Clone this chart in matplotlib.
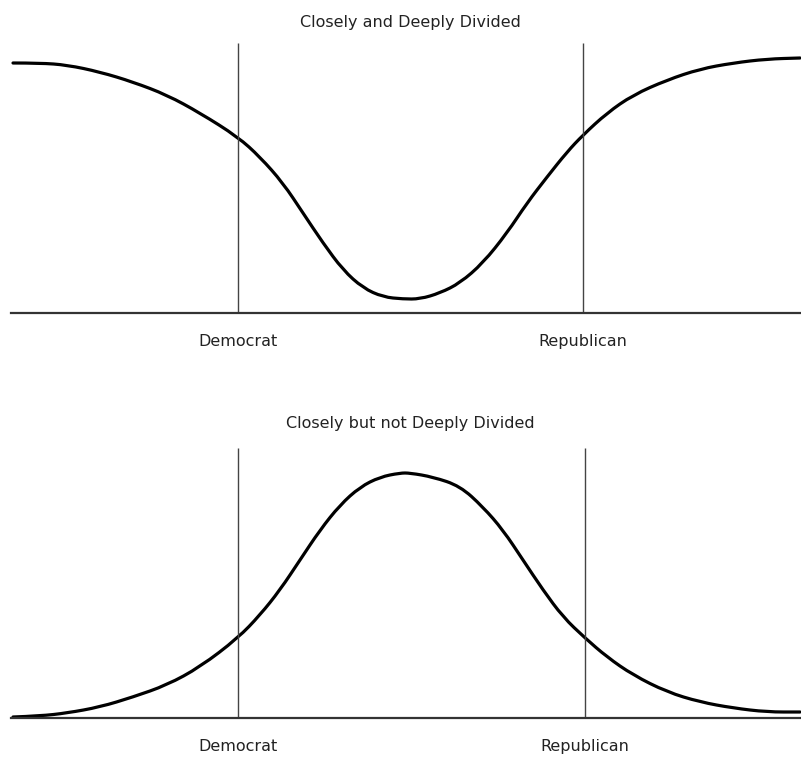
"""
    Two sketches of how opinion can be spread between the parties:
    closely and deeply divided vs closely but not deeply divided.
"""

import matplotlib
matplotlib.use("Agg")
import matplotlib.pyplot as plt
import numpy as np
from matplotlib.path import Path
from matplotlib.patches import PathPatch

# positions along the left-right scale (arbitrary units) and curve heights
deep_x = [2, 29, 56, 89, 122, 156, 189, 227, 249, 272, 292, 312, 332, 352, 372, 392,
          409, 429, 449, 472, 496, 516, 536, 556, 572, 596, 622, 656, 689, 722, 756, 789]
deep_y = [250, 250, 248, 241, 231, 218, 200, 176, 156, 130, 100, 70, 43, 25, 16, 14,
          14, 20, 30, 50, 80, 110, 136, 161, 178, 200, 218, 233, 244, 250, 254, 255]

close_x = [2, 29, 56, 89, 122, 156, 189, 227, 249, 269, 289, 309, 329, 349, 369, 389,
           399, 422, 449, 472, 492, 512, 532, 552, 574, 596, 622, 656, 689, 722, 756, 789]
close_y = [1, 2, 5, 11, 21, 33, 51, 80, 103, 128, 158, 188, 213, 231, 241, 245,
           245, 241, 232, 211, 188, 158, 128, 101, 80, 61, 43, 26, 16, 10, 6, 6]

parties = ["Democrat", "Republican"]
deep_party_x = [227, 572]
close_party_x = [227, 574]
marker_height = 270

titles = ["Closely and Deeply Divided", "Closely but not Deeply Divided"]


def smooth_path(xs, ys):
    # quadratic bezier through midpoints, the read points act as control points
    pts = np.column_stack([xs, ys]).astype(float)
    verts = [pts[0]]
    codes = [Path.MOVETO]
    for i in range(1, len(pts) - 1):
        mid = (pts[i] + pts[i + 1]) / 2
        verts += [pts[i], mid]
        codes += [Path.CURVE3, Path.CURVE3]
    verts.append(pts[-1])
    codes.append(Path.LINETO)
    return Path(verts, codes)


fig = plt.figure(figsize=(8.01, 7.6), dpi=100)
ax_top = fig.add_axes([11 / 801, 447 / 760, 790 / 801, 300 / 760])
ax_bot = fig.add_axes([11 / 801, 42 / 760, 790 / 801, 300 / 760])

panels = [
    (ax_top, deep_x, deep_y, deep_party_x, titles[0], 0.970),
    (ax_bot, close_x, close_y, close_party_x, titles[1], 0.983),
]

for ax, xs, ys, px, title, ty in panels:
    ax.add_patch(PathPatch(smooth_path(xs, ys), facecolor="none", edgecolor="black",
                           lw=2.3, capstyle="round", joinstyle="round"))
    ax.vlines(px, 0, marker_height, color="#444444", lw=1.0)
    ax.set_xlim(0, 790)
    ax.set_ylim(0, 300)
    for side in ["top", "left", "right"]:
        ax.spines[side].set_visible(False)
    ax.spines["bottom"].set_color("#333333")
    ax.spines["bottom"].set_linewidth(1.6)
    ax.set_yticks([])
    ax.set_xticks(px)
    ax.set_xticklabels(parties, fontsize=11.5, color="#222222")
    ax.tick_params(axis="x", length=0, pad=15)
    ax.text(0.506, ty, title, transform=ax.transAxes, ha="center", va="center",
            fontsize=11.5, color="#222222")

fig.savefig("out.png", dpi=100)
